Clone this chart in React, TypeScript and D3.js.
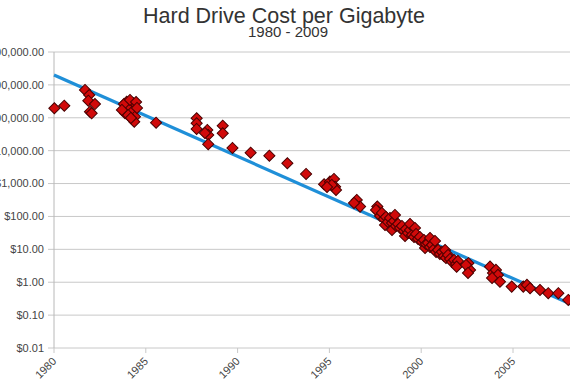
import React from "react";
import * as d3 from "d3";

const titleText = "Hard Drive Cost per Gigabyte";
const subtitleText = "1980 - 2009";

const xTickYears = [1980, 1985, 1990, 1995, 2000, 2005, 2010];
const yTickCosts = [1e7, 1e6, 1e5, 1e4, 1e3, 100, 10, 1, 0.1, 0.01];

const trendYears = [1980, 2010];
const trendCosts = [2.0e6, 0.075];

const driveYears = [
  1980.02, 1980.56, 1981.69, 1981.92, 1981.87, 1982.23, 1981.96, 1982.05,
  1983.96, 1984.32, 1984.05, 1984.26, 1984.41, 1984.37, 1983.87, 1983.81,
  1984.14, 1984.47, 1984.52, 1984.03, 1983.7, 1984.19, 1985.56,
  1987.77, 1987.77, 1987.77, 1988.35, 1988.4, 1988.4, 1988.22,
  1989.19, 1989.19, 1989.72, 1990.71, 1991.73, 1992.71, 1993.73,
  1994.71, 1995.03, 1995.25, 1995.31, 1995.36, 1995.13, 1994.87,
  1996.49, 1996.67, 1996.34, 1997.61, 1997.66, 1997.54,
  1997.76, 1997.86, 1997.97, 1998.03, 1998.08, 1998.19, 1998.3, 1998.41,
  1998.41, 1998.52, 1998.57, 1998.63, 1998.74, 1998.85, 1998.95, 1999.06,
  1999.12, 1999.17, 1999.28, 1999.39, 1999.39, 1999.5, 1999.61, 1999.66,
  1999.72, 1999.83, 1999.93, 2000.04, 2000.15, 2000.21, 2000.26, 2000.37,
  2000.48, 2000.48, 2000.59, 2000.7, 2000.75, 2000.81, 2000.92, 2001.02,
  2001.13, 2001.24, 2001.3, 2001.35, 2001.46, 2001.57, 2001.68, 2001.79,
  2001.9, 2002.0,
  2001.93, 2002.57, 2002.66, 2002.44, 2002.55, 2003.75, 2003.91, 2004.07,
  2004.18, 2004.29, 2003.86, 2004.93, 2005.56, 2005.76, 2005.93, 2006.47,
  2006.92, 2007.47, 2008.01,
];

const driveCosts = [
  195000, 233000, 700000, 493000, 331000, 262000, 153000, 137000,
  308000, 276000, 195000, 153000, 108000, 76000, 137000, 262000,
  348000, 302000, 199000, 122000, 173000, 98700, 71000,
  96600, 68100, 45700, 42600, 30000, 15700, 34500,
  57500, 33800, 12100, 8700, 7050, 4140, 1960,
  953, 1143, 1380, 805, 638, 906, 789,
  318, 199, 257, 199, 140, 158,
  104, 128, 83.9, 55.2, 96.6, 68.1, 90.0, 63.4,
  38.9, 73.0, 111, 51.4, 59.2, 44.7, 51.4, 36.2,
  25.5, 41.7, 31.5, 38.9, 59.2, 27.4, 23.8, 44.7,
  29.4, 20.7, 23.8, 16.8, 19.3, 11.0, 14.6, 15.7,
  11.8, 22.2, 13.6, 10.3, 18.0, 8.34, 9.59, 7.24,
  8.34, 6.3, 9.59, 5.48, 6.76, 5.11, 4.14, 4.76,
  3.6, 4.44,
  2.98, 3.78, 2.37, 3.36, 1.92, 2.98, 1.92, 2.37,
  1.67, 1.04, 1.35, 0.735, 0.735, 0.83, 0.658, 0.583,
  0.463, 0.463, 0.29,
];

const W = 570;
const H = 390;
const FONT = "'Liberation Sans', Arial, sans-serif";

export default function App() {
  const left = 54;
  const top = 52;
  const bottom = 348;
  const x = d3.scaleLinear().domain([1980, 2010]).range([left, left + 30 * 18.36]);
  const y = d3.scaleLog().domain([1e7, 0.01]).range([top, bottom]);
  const fmt = d3.format("$,.2f");

  const trendLine = d3
    .line<number>()
    .x((_, i) => x(trendYears[i]))
    .y((d) => y(d))(trendCosts);

  const diamond = d3.symbol().type(d3.symbolSquare).size(62)();

  return (
    <svg
      width={W}
      height={H}
      style={{ position: "absolute", left: 0, top: 0, background: "#fff" }}
      fontFamily={FONT}
    >
      <rect x={0} y={0} width={W} height={H} fill="#fff" />
      <text x={284} y={23} textAnchor="middle" fontSize={21.5} fill="#333">
        {titleText}
      </text>
      <text x={288} y={37} textAnchor="middle" fontSize={15} fill="#333">
        {subtitleText}
      </text>

      {yTickCosts.map((c) => (
        <g key={c}>
          <line x1={left - 6} x2={W} y1={y(c)} y2={y(c)} stroke="#c8c8c8" strokeWidth={1} />
          <text x={44} y={y(c)} dy="0.35em" textAnchor="end" fontSize={11} fill="#444">
            {fmt(c)}
          </text>
        </g>
      ))}
      <line x1={left} x2={left} y1={top} y2={bottom} stroke="#b8b8b8" strokeWidth={1} />

      {xTickYears.map((t) => (
        <g key={t}>
          <line x1={x(t)} x2={x(t)} y1={bottom} y2={bottom + 5} stroke="#c8c8c8" strokeWidth={1} />
          <text
            transform={`translate(${x(t) + 3},${bottom + 14}) rotate(-45)`}
            textAnchor="end"
            fontSize={11}
            fill="#444"
          >
            {t}
          </text>
        </g>
      ))}

      <path d={trendLine ?? ""} fill="none" stroke="#1f8fd8" strokeWidth={3.2} />

      {driveYears.map((yr, i) => (
        <path
          key={i}
          d={diamond ?? ""}
          transform={`translate(${x(yr)},${y(driveCosts[i])}) rotate(45)`}
          fill="#d10a0a"
          stroke="#4a0000"
          strokeWidth={1}
        />
      ))}
    </svg>
  );
}
